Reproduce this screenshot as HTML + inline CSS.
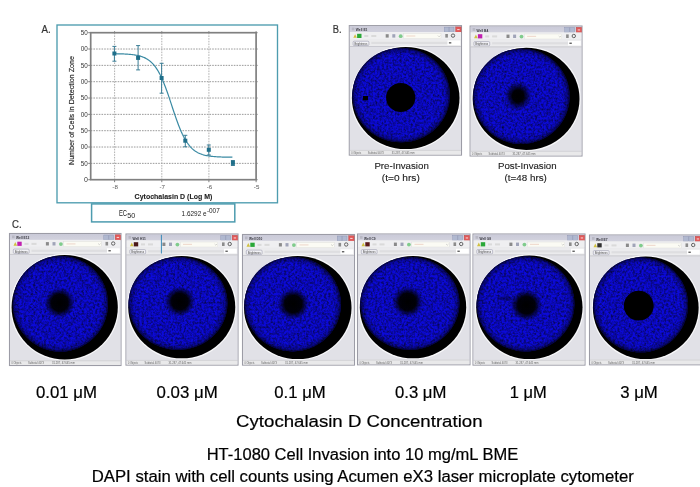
<!DOCTYPE html><html><head><meta charset="utf-8"><style>html,body{margin:0;padding:0;background:#fff;}svg{display:block;font-family:"Liberation Sans", sans-serif;will-change:transform;}</style></head><body>
<svg width="700" height="487" viewBox="0 0 700 487" font-family='"Liberation Sans", sans-serif'>
<defs>
<radialGradient id="spot"><stop offset="0" stop-color="#000" stop-opacity="1"/><stop offset="0.55" stop-color="#000" stop-opacity="0.95"/><stop offset="1" stop-color="#000" stop-opacity="0"/></radialGradient>
<filter id="spk" x="0" y="0" width="100%" height="100%" color-interpolation-filters="sRGB"><feTurbulence type="fractalNoise" baseFrequency="0.45" numOctaves="3" seed="3" result="n"/><feColorMatrix in="n" type="matrix" values="0 0 0 0 0.02  0 0 0 0 0.02  0 0 0 0 0.1  -1.4 0 0 0 0.9" result="m"/><feComposite in="m" in2="SourceGraphic" operator="in"/></filter>
<linearGradient id="tbar" x1="0" y1="0" x2="0" y2="1"><stop offset="0" stop-color="#cacad8"/><stop offset="1" stop-color="#d2d2de"/></linearGradient>
<radialGradient id="vig"><stop offset="0.86" stop-color="#000" stop-opacity="0"/><stop offset="0.96" stop-color="#000" stop-opacity="0.3"/><stop offset="1" stop-color="#000" stop-opacity="0.75"/></radialGradient>
<radialGradient id="spot2"><stop offset="0" stop-color="#000" stop-opacity="1"/><stop offset="0.42" stop-color="#000" stop-opacity="0.97"/><stop offset="1" stop-color="#000" stop-opacity="0"/></radialGradient>
</defs>
<rect width="700" height="487" fill="#fff"/>
<text x="41.6" y="32.7" font-size="10.2" textLength="9.2" lengthAdjust="spacingAndGlyphs" fill="#333" stroke="#333" stroke-width="0.2">A.</text>
<rect x="57" y="25" width="220.5" height="177.8" fill="#fff" stroke="#4d9caf" stroke-width="1.35"/>
<line x1="90.7" y1="49.03" x2="256.1" y2="49.03" stroke="#9a9a9a" stroke-width="1" stroke-dasharray="1.6,1.1"/>
<line x1="90.7" y1="65.37" x2="256.1" y2="65.37" stroke="#9a9a9a" stroke-width="1" stroke-dasharray="1.6,1.1"/>
<line x1="90.7" y1="81.70" x2="256.1" y2="81.70" stroke="#9a9a9a" stroke-width="1" stroke-dasharray="1.6,1.1"/>
<line x1="90.7" y1="98.03" x2="256.1" y2="98.03" stroke="#9a9a9a" stroke-width="1" stroke-dasharray="1.6,1.1"/>
<line x1="90.7" y1="114.37" x2="256.1" y2="114.37" stroke="#9a9a9a" stroke-width="1" stroke-dasharray="1.6,1.1"/>
<line x1="90.7" y1="130.70" x2="256.1" y2="130.70" stroke="#9a9a9a" stroke-width="1" stroke-dasharray="1.6,1.1"/>
<line x1="90.7" y1="147.03" x2="256.1" y2="147.03" stroke="#9a9a9a" stroke-width="1" stroke-dasharray="1.6,1.1"/>
<line x1="90.7" y1="163.37" x2="256.1" y2="163.37" stroke="#9a9a9a" stroke-width="1" stroke-dasharray="1.6,1.1"/>
<line x1="114.60" y1="32.7" x2="114.60" y2="179.7" stroke="#a8a8a8" stroke-width="0.9" stroke-dasharray="1.6,1.1"/>
<line x1="161.80" y1="32.7" x2="161.80" y2="179.7" stroke="#a8a8a8" stroke-width="0.9" stroke-dasharray="1.6,1.1"/>
<line x1="208.90" y1="32.7" x2="208.90" y2="179.7" stroke="#a8a8a8" stroke-width="0.9" stroke-dasharray="1.6,1.1"/>
<rect x="90.7" y="32.7" width="165.40" height="147.00" fill="none" stroke="#808080" stroke-width="1.7"/>
<line x1="88.2" y1="32.70" x2="90.7" y2="32.70" stroke="#808080" stroke-width="1"/>
<line x1="256.1" y1="32.70" x2="257.6" y2="32.70" stroke="#808080" stroke-width="1"/>
<line x1="88.2" y1="49.03" x2="90.7" y2="49.03" stroke="#808080" stroke-width="1"/>
<line x1="256.1" y1="49.03" x2="257.6" y2="49.03" stroke="#808080" stroke-width="1"/>
<line x1="88.2" y1="65.37" x2="90.7" y2="65.37" stroke="#808080" stroke-width="1"/>
<line x1="256.1" y1="65.37" x2="257.6" y2="65.37" stroke="#808080" stroke-width="1"/>
<line x1="88.2" y1="81.70" x2="90.7" y2="81.70" stroke="#808080" stroke-width="1"/>
<line x1="256.1" y1="81.70" x2="257.6" y2="81.70" stroke="#808080" stroke-width="1"/>
<line x1="88.2" y1="98.03" x2="90.7" y2="98.03" stroke="#808080" stroke-width="1"/>
<line x1="256.1" y1="98.03" x2="257.6" y2="98.03" stroke="#808080" stroke-width="1"/>
<line x1="88.2" y1="114.37" x2="90.7" y2="114.37" stroke="#808080" stroke-width="1"/>
<line x1="256.1" y1="114.37" x2="257.6" y2="114.37" stroke="#808080" stroke-width="1"/>
<line x1="88.2" y1="130.70" x2="90.7" y2="130.70" stroke="#808080" stroke-width="1"/>
<line x1="256.1" y1="130.70" x2="257.6" y2="130.70" stroke="#808080" stroke-width="1"/>
<line x1="88.2" y1="147.03" x2="90.7" y2="147.03" stroke="#808080" stroke-width="1"/>
<line x1="256.1" y1="147.03" x2="257.6" y2="147.03" stroke="#808080" stroke-width="1"/>
<line x1="88.2" y1="163.37" x2="90.7" y2="163.37" stroke="#808080" stroke-width="1"/>
<line x1="256.1" y1="163.37" x2="257.6" y2="163.37" stroke="#808080" stroke-width="1"/>
<line x1="88.2" y1="179.70" x2="90.7" y2="179.70" stroke="#808080" stroke-width="1"/>
<line x1="256.1" y1="179.70" x2="257.6" y2="179.70" stroke="#808080" stroke-width="1"/>
<line x1="114.60" y1="179.7" x2="114.60" y2="182.2" stroke="#808080" stroke-width="1"/>
<line x1="114.60" y1="31.200000000000003" x2="114.60" y2="32.7" stroke="#808080" stroke-width="1"/>
<line x1="161.80" y1="179.7" x2="161.80" y2="182.2" stroke="#808080" stroke-width="1"/>
<line x1="161.80" y1="31.200000000000003" x2="161.80" y2="32.7" stroke="#808080" stroke-width="1"/>
<line x1="208.90" y1="179.7" x2="208.90" y2="182.2" stroke="#808080" stroke-width="1"/>
<line x1="208.90" y1="31.200000000000003" x2="208.90" y2="32.7" stroke="#808080" stroke-width="1"/>
<line x1="256.10" y1="179.7" x2="256.10" y2="182.2" stroke="#808080" stroke-width="1"/>
<line x1="256.10" y1="31.200000000000003" x2="256.10" y2="32.7" stroke="#808080" stroke-width="1"/>
<text x="87.8" y="35.00" font-size="7" fill="#333" text-anchor="end" textLength="7" lengthAdjust="spacingAndGlyphs">50</text>
<text x="87.8" y="51.33" font-size="7" fill="#333" text-anchor="end" textLength="7" lengthAdjust="spacingAndGlyphs">00</text>
<text x="87.8" y="67.67" font-size="7" fill="#333" text-anchor="end" textLength="7" lengthAdjust="spacingAndGlyphs">50</text>
<text x="87.8" y="84.00" font-size="7" fill="#333" text-anchor="end" textLength="7" lengthAdjust="spacingAndGlyphs">00</text>
<text x="87.8" y="100.33" font-size="7" fill="#333" text-anchor="end" textLength="7" lengthAdjust="spacingAndGlyphs">50</text>
<text x="87.8" y="116.67" font-size="7" fill="#333" text-anchor="end" textLength="7" lengthAdjust="spacingAndGlyphs">00</text>
<text x="87.8" y="133.00" font-size="7" fill="#333" text-anchor="end" textLength="7" lengthAdjust="spacingAndGlyphs">50</text>
<text x="87.8" y="149.33" font-size="7" fill="#333" text-anchor="end" textLength="7" lengthAdjust="spacingAndGlyphs">00</text>
<text x="87.8" y="165.67" font-size="7" fill="#333" text-anchor="end" textLength="7" lengthAdjust="spacingAndGlyphs">50</text>
<text x="87.8" y="182.00" font-size="7" fill="#333" text-anchor="end">0</text>
<text x="115.10" y="188.8" font-size="6.2" fill="#555" text-anchor="middle">-8</text>
<text x="162.30" y="188.8" font-size="6.2" fill="#555" text-anchor="middle">-7</text>
<text x="209.40" y="188.8" font-size="6.2" fill="#555" text-anchor="middle">-6</text>
<text x="256.60" y="188.8" font-size="6.2" fill="#555" text-anchor="middle">-5</text>
<text x="134.6" y="198.9" font-size="7.8" font-weight="bold" fill="#222" textLength="77.8" lengthAdjust="spacingAndGlyphs" stroke="#222" stroke-width="0.1">Cytochalasin D (Log M)</text>
<text transform="translate(74,165) rotate(-90)" x="0" y="0" font-size="7.7" fill="#222" stroke="#222" stroke-width="0.15" textLength="109" lengthAdjust="spacingAndGlyphs">Number of Cells in Detection Zone</text>
<polyline points="114.4,53.72 115.4,53.74 116.4,53.76 117.4,53.78 118.4,53.80 119.4,53.82 120.4,53.85 121.4,53.88 122.4,53.92 123.4,53.96 124.4,54.00 125.4,54.05 126.4,54.11 127.4,54.17 128.4,54.24 129.4,54.32 130.4,54.41 131.4,54.51 132.4,54.62 133.4,54.75 134.4,54.89 135.4,55.04 136.4,55.22 137.4,55.42 138.4,55.64 139.4,55.89 140.4,56.17 141.4,56.48 142.4,56.82 143.4,57.21 144.4,57.64 145.4,58.12 146.4,58.66 147.4,59.25 148.4,59.91 149.4,60.64 150.4,61.45 151.4,62.35 152.4,63.33 153.4,64.42 154.4,65.61 155.4,66.91 156.4,68.33 157.4,69.87 158.4,71.54 159.4,73.35 160.4,75.29 161.4,77.37 162.4,79.59 163.4,81.94 164.4,84.41 165.4,87.01 166.4,89.72 167.4,92.52 168.4,95.41 169.4,98.37 170.4,101.37 171.4,104.40 172.4,107.44 173.4,110.46 174.4,113.45 175.4,116.39 176.4,119.25 177.4,122.03 178.4,124.70 179.4,127.26 180.4,129.70 181.4,132.01 182.4,134.18 183.4,136.22 184.4,138.12 185.4,139.89 186.4,141.52 187.4,143.02 188.4,144.41 189.4,145.67 190.4,146.83 191.4,147.88 192.4,148.84 193.4,149.71 194.4,150.49 195.4,151.20 196.4,151.84 197.4,152.41 198.4,152.93 199.4,153.40 200.4,153.81 201.4,154.19 202.4,154.52 203.4,154.82 204.4,155.09 205.4,155.33 206.4,155.54 207.4,155.74 208.4,155.91 209.4,156.06 210.4,156.19 211.4,156.32 212.4,156.42 213.4,156.52 214.4,156.61 215.4,156.68 216.4,156.75 217.4,156.81 218.4,156.86 219.4,156.91 220.4,156.96 221.4,156.99 222.4,157.03 223.4,157.06 224.4,157.08 225.4,157.11 226.4,157.13 227.4,157.15 228.4,157.16 229.4,157.18 230.4,157.19 231.4,157.20 232.4,157.22" fill="none" stroke="#3a8aa3" stroke-width="1.2" stroke-linejoin="round"/>
<line x1="114.4" y1="46.4" x2="114.4" y2="61.2" stroke="#3a7d95" stroke-width="1"/>
<line x1="112.4" y1="46.4" x2="116.4" y2="46.4" stroke="#3a7d95" stroke-width="1"/>
<line x1="112.4" y1="61.2" x2="116.4" y2="61.2" stroke="#3a7d95" stroke-width="1"/>
<rect x="112.4" y="51.5" width="4" height="4" fill="#1f6f8a"/>
<line x1="138.1" y1="45.6" x2="138.1" y2="69.9" stroke="#3a7d95" stroke-width="1"/>
<line x1="136.1" y1="45.6" x2="140.1" y2="45.6" stroke="#3a7d95" stroke-width="1"/>
<line x1="136.1" y1="69.9" x2="140.1" y2="69.9" stroke="#3a7d95" stroke-width="1"/>
<rect x="136.1" y="55.9" width="4" height="4" fill="#1f6f8a"/>
<line x1="161.6" y1="63.3" x2="161.6" y2="93.2" stroke="#3a7d95" stroke-width="1"/>
<line x1="159.6" y1="63.3" x2="163.6" y2="63.3" stroke="#3a7d95" stroke-width="1"/>
<line x1="159.6" y1="93.2" x2="163.6" y2="93.2" stroke="#3a7d95" stroke-width="1"/>
<rect x="159.6" y="76" width="4" height="4" fill="#1f6f8a"/>
<line x1="185.3" y1="135.3" x2="185.3" y2="146.8" stroke="#3a7d95" stroke-width="1"/>
<line x1="183.3" y1="135.3" x2="187.3" y2="135.3" stroke="#3a7d95" stroke-width="1"/>
<line x1="183.3" y1="146.8" x2="187.3" y2="146.8" stroke="#3a7d95" stroke-width="1"/>
<rect x="183.3" y="138.7" width="4" height="4" fill="#1f6f8a"/>
<line x1="208.8" y1="145" x2="208.8" y2="155" stroke="#3a7d95" stroke-width="1"/>
<line x1="206.8" y1="145" x2="210.8" y2="145" stroke="#3a7d95" stroke-width="1"/>
<line x1="206.8" y1="155" x2="210.8" y2="155" stroke="#3a7d95" stroke-width="1"/>
<rect x="206.8" y="147.8" width="4" height="4" fill="#1f6f8a"/>
<line x1="232.9" y1="160.5" x2="232.9" y2="165.5" stroke="#3a7d95" stroke-width="1"/>
<line x1="230.9" y1="160.5" x2="234.9" y2="160.5" stroke="#3a7d95" stroke-width="1"/>
<line x1="230.9" y1="165.5" x2="234.9" y2="165.5" stroke="#3a7d95" stroke-width="1"/>
<rect x="230.9" y="160.9" width="4" height="4" fill="#1f6f8a"/>
<rect x="91.6" y="203.9" width="143.2" height="18" fill="#fff" stroke="#4d9caf" stroke-width="1.5"/>
<text x="118.9" y="215.6" font-size="8.2" fill="#222" textLength="8.2" lengthAdjust="spacingAndGlyphs">EC</text>
<text x="127.3" y="217.6" font-size="7.6" fill="#222" textLength="8" lengthAdjust="spacingAndGlyphs">50</text>
<text x="181.6" y="215.8" font-size="7.4" fill="#222" textLength="25" lengthAdjust="spacingAndGlyphs">1.6292 e</text>
<text x="206.9" y="213.2" font-size="6.4" fill="#222" textLength="12.8" lengthAdjust="spacingAndGlyphs">-007</text>
<text x="332.8" y="32.7" font-size="10.3" textLength="8.8" lengthAdjust="spacingAndGlyphs" fill="#333" stroke="#333" stroke-width="0.2">B.</text>
<g>
<rect x="349.3" y="25.6" width="112.20" height="129.50" fill="#e3e3e8" stroke="#9c9ca6" stroke-width="1.1"/>
<rect x="349.8" y="26.1" width="111.20" height="5.9" fill="url(#tbar)"/>
<rect x="351.8" y="27.6" width="2.6" height="2.8" fill="#b8b8c4"/>
<text x="355.8" y="31.3" font-size="4.4" font-weight="bold" fill="#383840" textLength="11.6" lengthAdjust="spacingAndGlyphs">Well E1</text>
<rect x="444.30" y="27.1" width="4.6" height="5" fill="#b0b8d0" stroke="#8890b0" stroke-width="0.4"/>
<rect x="449.40" y="27.1" width="4.6" height="5" fill="#b0b8d0" stroke="#8890b0" stroke-width="0.4"/>
<rect x="455.70" y="26.900000000000002" width="5.4" height="5.3" fill="#e25858" stroke="#b84848" stroke-width="0.4"/>
<rect x="457.20" y="29.0" width="2.4" height="1.1" fill="#f6d0d0"/>
<rect x="349.8" y="32.0" width="111.20" height="7" fill="#efeff1"/>
<path d="M353.30,37.8 L355.10,34.2 L356.90,37.8 Z" fill="#d0c040"/>
<rect x="357.1" y="33.8" width="4.4" height="4.2" fill="#2aa838"/>
<rect x="364.3" y="35.0" width="4" height="2" fill="#dadada"/>
<rect x="371.3" y="35.0" width="5" height="2" fill="#dadada"/>
<rect x="385.7" y="34.2" width="3" height="3.4" fill="#8a8a8a"/>
<rect x="392.3" y="34.2" width="3" height="3.4" fill="#a0a4b8"/>
<circle cx="400.7" cy="36.2" r="1.9" fill="#80cc8c"/>
<rect x="403.5" y="33.6" width="37.5" height="5" fill="#fbfbf4" stroke="#dcdcd8" stroke-width="0.4"/>
<path d="M437.90,35.6 l1.2,1.2 l1.2,-1.2" fill="none" stroke="#aaa" stroke-width="0.5"/>
<rect x="406.3" y="35.400000000000006" width="9" height="1.2" fill="#f0dcd0"/>
<rect x="445.3" y="34.0" width="2.6" height="3.6" fill="#8c8c8c"/>
<circle cx="453.0" cy="35.6" r="1.7" fill="none" stroke="#555" stroke-width="0.9"/>
<rect x="349.8" y="39.0" width="111.20" height="7.3" fill="#ebebed"/>
<rect x="353.1" y="41.2" width="15.8" height="4.3" rx="1" fill="#f2f2f6" stroke="#8a8aa0" stroke-width="0.5"/>
<text x="354.5" y="44.6" font-size="3.4" fill="#444" textLength="12.8" lengthAdjust="spacingAndGlyphs">Brightness</text>
<rect x="371.3" y="41.8" width="76.20" height="2.2" fill="#dedee0"/>
<rect x="447.50" y="40.400000000000006" width="12.8" height="4.7" fill="#ffffff"/>
<rect x="448.90" y="42.2" width="2.4" height="1.3" fill="#555"/>
<rect x="349.8" y="46.3" width="111.20" height="104.10" fill="#e1e1e7"/>
<line x1="349.8" y1="46.5" x2="461.00" y2="46.5" stroke="#b8b8c0" stroke-width="0.6"/>
<ellipse cx="405.7" cy="98" rx="54.40" ry="51.70" fill="none" stroke="#f8f8fa" stroke-width="1.2"/>
<ellipse cx="405.7" cy="98" rx="53.8" ry="51.1" fill="#000"/>
<ellipse cx="401.15" cy="95.1" rx="48.75" ry="47.2" fill="#0c0ad8"/>
<ellipse cx="401.15" cy="95.1" rx="48.75" ry="47.2" fill="#000" filter="url(#spk)"/>
<ellipse cx="401.15" cy="95.1" rx="48.75" ry="47.2" fill="url(#vig)"/>
<ellipse cx="400.7" cy="97.4" rx="14.6" ry="14.5" fill="#000"/>
<rect x="363" y="96" width="5" height="4.3" fill="#000"/>
<rect x="349.8" y="150.40" width="111.20" height="4.2" fill="#e9e9ea"/>
<line x1="349.8" y1="150.40" x2="461.00" y2="150.40" stroke="#c0c0c4" stroke-width="0.5"/>
<text x="351.3" y="153.80" font-size="3" fill="#666" textLength="10" lengthAdjust="spacingAndGlyphs">0 Objects</text>
<text x="367.8" y="153.80" font-size="3" fill="#666" textLength="16" lengthAdjust="spacingAndGlyphs">Subtotal 4073</text>
<text x="391.8" y="153.80" font-size="3" fill="#666" textLength="23" lengthAdjust="spacingAndGlyphs">31.287, 47.645 mm</text>
</g>
<g>
<rect x="470.1" y="26" width="111.90" height="130.00" fill="#e3e3e8" stroke="#9c9ca6" stroke-width="1.1"/>
<rect x="470.6" y="26.5" width="110.90" height="5.9" fill="url(#tbar)"/>
<rect x="472.6" y="28" width="2.6" height="2.8" fill="#b8b8c4"/>
<text x="476.6" y="31.7" font-size="4.4" font-weight="bold" fill="#383840" textLength="11.6" lengthAdjust="spacingAndGlyphs">Well B4</text>
<rect x="564.80" y="27.5" width="4.6" height="5" fill="#b0b8d0" stroke="#8890b0" stroke-width="0.4"/>
<rect x="569.90" y="27.5" width="4.6" height="5" fill="#b0b8d0" stroke="#8890b0" stroke-width="0.4"/>
<rect x="576.20" y="27.3" width="5.4" height="5.3" fill="#e25858" stroke="#b84848" stroke-width="0.4"/>
<rect x="577.70" y="29.4" width="2.4" height="1.1" fill="#f6d0d0"/>
<rect x="470.6" y="32.4" width="110.90" height="7" fill="#efeff1"/>
<path d="M474.10,38.2 L475.90,34.6 L477.70,38.2 Z" fill="#d0c040"/>
<rect x="477.90000000000003" y="34.2" width="4.4" height="4.2" fill="#c020b0"/>
<rect x="485.1" y="35.4" width="4" height="2" fill="#dadada"/>
<rect x="492.1" y="35.4" width="5" height="2" fill="#dadada"/>
<rect x="506.5" y="34.6" width="3" height="3.4" fill="#8a8a8a"/>
<rect x="513.1" y="34.6" width="3" height="3.4" fill="#a0a4b8"/>
<circle cx="521.5" cy="36.6" r="1.9" fill="#80cc8c"/>
<rect x="524.3000000000001" y="34" width="37.5" height="5" fill="#fbfbf4" stroke="#dcdcd8" stroke-width="0.4"/>
<path d="M558.70,36 l1.2,1.2 l1.2,-1.2" fill="none" stroke="#aaa" stroke-width="0.5"/>
<rect x="527.1" y="35.8" width="9" height="1.2" fill="#f0dcd0"/>
<rect x="566.1" y="34.4" width="2.6" height="3.6" fill="#8c8c8c"/>
<circle cx="573.8000000000001" cy="36" r="1.7" fill="none" stroke="#555" stroke-width="0.9"/>
<rect x="470.6" y="39.4" width="110.90" height="7.3" fill="#ebebed"/>
<rect x="473.90000000000003" y="41.6" width="15.8" height="4.3" rx="1" fill="#f2f2f6" stroke="#8a8aa0" stroke-width="0.5"/>
<text x="475.3" y="45" font-size="3.4" fill="#444" textLength="12.8" lengthAdjust="spacingAndGlyphs">Brightness</text>
<rect x="492.1" y="42.2" width="75.90" height="2.2" fill="#dedee0"/>
<rect x="568.00" y="40.8" width="12.8" height="4.7" fill="#ffffff"/>
<rect x="569.40" y="42.6" width="2.4" height="1.3" fill="#555"/>
<rect x="470.6" y="46.7" width="110.90" height="104.60" fill="#e1e1e7"/>
<line x1="470.6" y1="46.9" x2="581.50" y2="46.9" stroke="#b8b8c0" stroke-width="0.6"/>
<ellipse cx="526.1" cy="98.85" rx="54.00" ry="51.75" fill="none" stroke="#f8f8fa" stroke-width="1.2"/>
<ellipse cx="526.1" cy="98.85" rx="53.4" ry="51.15" fill="#000"/>
<ellipse cx="521.4" cy="96.35" rx="48.2" ry="47.65" fill="#0c0ad8"/>
<ellipse cx="521.4" cy="96.35" rx="48.2" ry="47.65" fill="#000" filter="url(#spk)"/>
<ellipse cx="521.4" cy="96.35" rx="48.2" ry="47.65" fill="url(#vig)"/>
<ellipse cx="518" cy="96" rx="13.5" ry="14.5" fill="url(#spot2)" opacity="1"/>
<rect x="470.6" y="151.30" width="110.90" height="4.2" fill="#e9e9ea"/>
<line x1="470.6" y1="151.30" x2="581.50" y2="151.30" stroke="#c0c0c4" stroke-width="0.5"/>
<text x="472.1" y="154.70" font-size="3" fill="#666" textLength="10" lengthAdjust="spacingAndGlyphs">0 Objects</text>
<text x="488.6" y="154.70" font-size="3" fill="#666" textLength="16" lengthAdjust="spacingAndGlyphs">Subtotal 4073</text>
<text x="512.6" y="154.70" font-size="3" fill="#666" textLength="23" lengthAdjust="spacingAndGlyphs">31.287, 47.645 mm</text>
</g>
<text x="401.6" y="169" font-size="9.6" fill="#222" stroke="#222" stroke-width="0.12" text-anchor="middle" textLength="54.4" lengthAdjust="spacingAndGlyphs">Pre-Invasion</text>
<text x="400.8" y="181" font-size="9.6" fill="#222" stroke="#222" stroke-width="0.12" text-anchor="middle" textLength="38" lengthAdjust="spacingAndGlyphs">(t=0 hrs)</text>
<text x="527.3" y="169" font-size="9.6" fill="#222" stroke="#222" stroke-width="0.12" text-anchor="middle" textLength="58.6" lengthAdjust="spacingAndGlyphs">Post-Invasion</text>
<text x="525.7" y="181" font-size="9.6" fill="#222" stroke="#222" stroke-width="0.12" text-anchor="middle" textLength="42.3" lengthAdjust="spacingAndGlyphs">(t=48 hrs)</text>
<text x="12" y="227.8" font-size="10.3" textLength="9.6" lengthAdjust="spacingAndGlyphs" fill="#333" stroke="#333" stroke-width="0.2">C.</text>
<g>
<rect x="9.5" y="233.5" width="111.50" height="132.00" fill="#e3e3e8" stroke="#9c9ca6" stroke-width="1.1"/>
<rect x="10.0" y="234.0" width="110.50" height="5.9" fill="url(#tbar)"/>
<rect x="12.0" y="235.5" width="2.6" height="2.8" fill="#b8b8c4"/>
<text x="16.0" y="239.2" font-size="4.4" font-weight="bold" fill="#383840" textLength="13.3" lengthAdjust="spacingAndGlyphs">Well E12</text>
<rect x="103.80" y="235.0" width="4.6" height="5" fill="#b0b8d0" stroke="#8890b0" stroke-width="0.4"/>
<rect x="108.90" y="235.0" width="4.6" height="5" fill="#b0b8d0" stroke="#8890b0" stroke-width="0.4"/>
<rect x="115.20" y="234.8" width="5.4" height="5.3" fill="#e25858" stroke="#b84848" stroke-width="0.4"/>
<rect x="116.70" y="236.9" width="2.4" height="1.1" fill="#f6d0d0"/>
<rect x="10.0" y="239.9" width="110.50" height="7" fill="#efeff1"/>
<path d="M13.50,245.7 L15.30,242.1 L17.10,245.7 Z" fill="#d0c040"/>
<rect x="17.3" y="241.7" width="4.4" height="4.2" fill="#c020b0"/>
<rect x="24.5" y="242.9" width="4" height="2" fill="#dadada"/>
<rect x="31.5" y="242.9" width="5" height="2" fill="#dadada"/>
<rect x="45.9" y="242.1" width="3" height="3.4" fill="#8a8a8a"/>
<rect x="52.5" y="242.1" width="3" height="3.4" fill="#a0a4b8"/>
<circle cx="60.9" cy="244.1" r="1.9" fill="#80cc8c"/>
<rect x="63.7" y="241.5" width="37.5" height="5" fill="#fbfbf4" stroke="#dcdcd8" stroke-width="0.4"/>
<path d="M98.10,243.5 l1.2,1.2 l1.2,-1.2" fill="none" stroke="#aaa" stroke-width="0.5"/>
<rect x="66.5" y="243.3" width="9" height="1.2" fill="#f0dcd0"/>
<rect x="105.5" y="241.9" width="2.6" height="3.6" fill="#8c8c8c"/>
<circle cx="113.2" cy="243.5" r="1.7" fill="none" stroke="#555" stroke-width="0.9"/>
<rect x="10.0" y="246.9" width="110.50" height="7.3" fill="#ebebed"/>
<rect x="13.3" y="249.1" width="15.8" height="4.3" rx="1" fill="#f2f2f6" stroke="#8a8aa0" stroke-width="0.5"/>
<text x="14.7" y="252.5" font-size="3.4" fill="#444" textLength="12.8" lengthAdjust="spacingAndGlyphs">Brightness</text>
<rect x="31.5" y="249.7" width="75.50" height="2.2" fill="#dedee0"/>
<rect x="107.00" y="248.3" width="12.8" height="4.7" fill="#ffffff"/>
<rect x="108.40" y="250.1" width="2.4" height="1.3" fill="#555"/>
<rect x="10.0" y="254.2" width="110.50" height="106.60" fill="#e1e1e7"/>
<line x1="10.0" y1="254.4" x2="120.50" y2="254.4" stroke="#b8b8c0" stroke-width="0.6"/>
<ellipse cx="64.7" cy="307.2" rx="53.70" ry="52.90" fill="none" stroke="#f8f8fa" stroke-width="1.2"/>
<ellipse cx="64.7" cy="307.2" rx="53.1" ry="52.3" fill="#000"/>
<ellipse cx="60.4" cy="303.8" rx="47.6" ry="47.75" fill="#0c0ad8"/>
<ellipse cx="60.4" cy="303.8" rx="47.6" ry="47.75" fill="#000" filter="url(#spk)"/>
<ellipse cx="60.4" cy="303.8" rx="47.6" ry="47.75" fill="url(#vig)"/>
<circle cx="59.6" cy="302.8" r="15.2" fill="url(#spot)" opacity="1.0"/>
<rect x="10.0" y="360.80" width="110.50" height="4.2" fill="#e9e9ea"/>
<line x1="10.0" y1="360.80" x2="120.50" y2="360.80" stroke="#c0c0c4" stroke-width="0.5"/>
<text x="11.5" y="364.20" font-size="3" fill="#666" textLength="10" lengthAdjust="spacingAndGlyphs">0 Objects</text>
<text x="28.0" y="364.20" font-size="3" fill="#666" textLength="16" lengthAdjust="spacingAndGlyphs">Subtotal 4073</text>
<text x="52.0" y="364.20" font-size="3" fill="#666" textLength="23" lengthAdjust="spacingAndGlyphs">31.287, 47.645 mm</text>
</g>
<g>
<rect x="126" y="234" width="112.00" height="131.10" fill="#e3e3e8" stroke="#9c9ca6" stroke-width="1.1"/>
<rect x="126.5" y="234.5" width="111.00" height="5.9" fill="url(#tbar)"/>
<rect x="128.5" y="236" width="2.6" height="2.8" fill="#b8b8c4"/>
<text x="132.5" y="239.7" font-size="4.4" font-weight="bold" fill="#383840" textLength="13.3" lengthAdjust="spacingAndGlyphs">Well H11</text>
<rect x="220.80" y="235.5" width="4.6" height="5" fill="#b0b8d0" stroke="#8890b0" stroke-width="0.4"/>
<rect x="225.90" y="235.5" width="4.6" height="5" fill="#b0b8d0" stroke="#8890b0" stroke-width="0.4"/>
<rect x="232.20" y="235.3" width="5.4" height="5.3" fill="#e25858" stroke="#b84848" stroke-width="0.4"/>
<rect x="233.70" y="237.4" width="2.4" height="1.1" fill="#f6d0d0"/>
<rect x="126.5" y="240.4" width="111.00" height="7" fill="#efeff1"/>
<path d="M130.00,246.2 L131.80,242.6 L133.60,246.2 Z" fill="#d0c040"/>
<rect x="133.8" y="242.2" width="4.4" height="4.2" fill="#4a1818"/>
<rect x="141" y="243.4" width="4" height="2" fill="#dadada"/>
<rect x="148" y="243.4" width="5" height="2" fill="#dadada"/>
<rect x="162.4" y="242.6" width="3" height="3.4" fill="#8a8a8a"/>
<rect x="169" y="242.6" width="3" height="3.4" fill="#a0a4b8"/>
<circle cx="177.4" cy="244.6" r="1.9" fill="#80cc8c"/>
<rect x="180.2" y="242" width="37.5" height="5" fill="#fbfbf4" stroke="#dcdcd8" stroke-width="0.4"/>
<path d="M214.60,244 l1.2,1.2 l1.2,-1.2" fill="none" stroke="#aaa" stroke-width="0.5"/>
<rect x="183" y="243.8" width="9" height="1.2" fill="#f0dcd0"/>
<rect x="222" y="242.4" width="2.6" height="3.6" fill="#8c8c8c"/>
<circle cx="229.7" cy="244" r="1.7" fill="none" stroke="#555" stroke-width="0.9"/>
<rect x="126.5" y="247.4" width="111.00" height="7.3" fill="#ebebed"/>
<rect x="129.8" y="249.6" width="15.8" height="4.3" rx="1" fill="#f2f2f6" stroke="#8a8aa0" stroke-width="0.5"/>
<text x="131.2" y="253" font-size="3.4" fill="#444" textLength="12.8" lengthAdjust="spacingAndGlyphs">Brightness</text>
<rect x="148" y="250.2" width="76.00" height="2.2" fill="#dedee0"/>
<rect x="224.00" y="248.8" width="12.8" height="4.7" fill="#ffffff"/>
<rect x="225.40" y="250.6" width="2.4" height="1.3" fill="#555"/>
<rect x="126.5" y="254.7" width="111.00" height="105.70" fill="#e1e1e7"/>
<line x1="126.5" y1="254.9" x2="237.50" y2="254.9" stroke="#b8b8c0" stroke-width="0.6"/>
<ellipse cx="181.75" cy="307.15" rx="54.10" ry="51.80" fill="none" stroke="#f8f8fa" stroke-width="1.2"/>
<ellipse cx="181.75" cy="307.15" rx="53.5" ry="51.2" fill="#000"/>
<ellipse cx="178" cy="303.4" rx="49.4" ry="46.5" fill="#0c0ad8"/>
<ellipse cx="178" cy="303.4" rx="49.4" ry="46.5" fill="#000" filter="url(#spk)"/>
<ellipse cx="178" cy="303.4" rx="49.4" ry="46.5" fill="url(#vig)"/>
<circle cx="179.8" cy="301.5" r="15" fill="url(#spot)" opacity="1.0"/>
<rect x="126.5" y="360.40" width="111.00" height="4.2" fill="#e9e9ea"/>
<line x1="126.5" y1="360.40" x2="237.50" y2="360.40" stroke="#c0c0c4" stroke-width="0.5"/>
<text x="128" y="363.80" font-size="3" fill="#666" textLength="10" lengthAdjust="spacingAndGlyphs">0 Objects</text>
<text x="144.5" y="363.80" font-size="3" fill="#666" textLength="16" lengthAdjust="spacingAndGlyphs">Subtotal 4073</text>
<text x="168.5" y="363.80" font-size="3" fill="#666" textLength="23" lengthAdjust="spacingAndGlyphs">31.287, 47.645 mm</text>
</g>
<g>
<rect x="242.5" y="234.5" width="112.00" height="130.60" fill="#e3e3e8" stroke="#9c9ca6" stroke-width="1.1"/>
<rect x="243.0" y="235.0" width="111.00" height="5.9" fill="url(#tbar)"/>
<rect x="245.0" y="236.5" width="2.6" height="2.8" fill="#b8b8c4"/>
<text x="249.0" y="240.2" font-size="4.4" font-weight="bold" fill="#383840" textLength="13.3" lengthAdjust="spacingAndGlyphs">Well D10</text>
<rect x="337.30" y="236.0" width="4.6" height="5" fill="#b0b8d0" stroke="#8890b0" stroke-width="0.4"/>
<rect x="342.40" y="236.0" width="4.6" height="5" fill="#b0b8d0" stroke="#8890b0" stroke-width="0.4"/>
<rect x="348.70" y="235.8" width="5.4" height="5.3" fill="#e25858" stroke="#b84848" stroke-width="0.4"/>
<rect x="350.20" y="237.9" width="2.4" height="1.1" fill="#f6d0d0"/>
<rect x="243.0" y="240.9" width="111.00" height="7" fill="#efeff1"/>
<path d="M246.50,246.7 L248.30,243.1 L250.10,246.7 Z" fill="#d0c040"/>
<rect x="250.3" y="242.7" width="4.4" height="4.2" fill="#2aa838"/>
<rect x="257.5" y="243.9" width="4" height="2" fill="#dadada"/>
<rect x="264.5" y="243.9" width="5" height="2" fill="#dadada"/>
<rect x="278.9" y="243.1" width="3" height="3.4" fill="#8a8a8a"/>
<rect x="285.5" y="243.1" width="3" height="3.4" fill="#a0a4b8"/>
<circle cx="293.9" cy="245.1" r="1.9" fill="#80cc8c"/>
<rect x="296.7" y="242.5" width="37.5" height="5" fill="#fbfbf4" stroke="#dcdcd8" stroke-width="0.4"/>
<path d="M331.10,244.5 l1.2,1.2 l1.2,-1.2" fill="none" stroke="#aaa" stroke-width="0.5"/>
<rect x="299.5" y="244.3" width="9" height="1.2" fill="#f0dcd0"/>
<rect x="338.5" y="242.9" width="2.6" height="3.6" fill="#8c8c8c"/>
<circle cx="346.2" cy="244.5" r="1.7" fill="none" stroke="#555" stroke-width="0.9"/>
<rect x="243.0" y="247.9" width="111.00" height="7.3" fill="#ebebed"/>
<rect x="246.3" y="250.1" width="15.8" height="4.3" rx="1" fill="#f2f2f6" stroke="#8a8aa0" stroke-width="0.5"/>
<text x="247.7" y="253.5" font-size="3.4" fill="#444" textLength="12.8" lengthAdjust="spacingAndGlyphs">Brightness</text>
<rect x="264.5" y="250.7" width="76.00" height="2.2" fill="#dedee0"/>
<rect x="340.50" y="249.3" width="12.8" height="4.7" fill="#ffffff"/>
<rect x="341.90" y="251.1" width="2.4" height="1.3" fill="#555"/>
<rect x="243.0" y="255.2" width="111.00" height="105.20" fill="#e1e1e7"/>
<line x1="243.0" y1="255.4" x2="354.00" y2="255.4" stroke="#b8b8c0" stroke-width="0.6"/>
<ellipse cx="297.75" cy="307.55" rx="54.35" ry="52.15" fill="none" stroke="#f8f8fa" stroke-width="1.2"/>
<ellipse cx="297.75" cy="307.55" rx="53.75" ry="51.55" fill="#000"/>
<ellipse cx="292.7" cy="304.2" rx="48.2" ry="47.2" fill="#0c0ad8"/>
<ellipse cx="292.7" cy="304.2" rx="48.2" ry="47.2" fill="#000" filter="url(#spk)"/>
<ellipse cx="292.7" cy="304.2" rx="48.2" ry="47.2" fill="url(#vig)"/>
<circle cx="293.3" cy="304" r="15.6" fill="url(#spot)" opacity="1.0"/>
<rect x="243.0" y="360.40" width="111.00" height="4.2" fill="#e9e9ea"/>
<line x1="243.0" y1="360.40" x2="354.00" y2="360.40" stroke="#c0c0c4" stroke-width="0.5"/>
<text x="244.5" y="363.80" font-size="3" fill="#666" textLength="10" lengthAdjust="spacingAndGlyphs">0 Objects</text>
<text x="261.0" y="363.80" font-size="3" fill="#666" textLength="16" lengthAdjust="spacingAndGlyphs">Subtotal 4073</text>
<text x="285.0" y="363.80" font-size="3" fill="#666" textLength="23" lengthAdjust="spacingAndGlyphs">31.287, 47.645 mm</text>
</g>
<g>
<rect x="357.5" y="234" width="112.50" height="130.80" fill="#e3e3e8" stroke="#9c9ca6" stroke-width="1.1"/>
<rect x="358.0" y="234.5" width="111.50" height="5.9" fill="url(#tbar)"/>
<rect x="360.0" y="236" width="2.6" height="2.8" fill="#b8b8c4"/>
<text x="364.0" y="239.7" font-size="4.4" font-weight="bold" fill="#383840" textLength="11.6" lengthAdjust="spacingAndGlyphs">Well C9</text>
<rect x="452.80" y="235.5" width="4.6" height="5" fill="#b0b8d0" stroke="#8890b0" stroke-width="0.4"/>
<rect x="457.90" y="235.5" width="4.6" height="5" fill="#b0b8d0" stroke="#8890b0" stroke-width="0.4"/>
<rect x="464.20" y="235.3" width="5.4" height="5.3" fill="#e25858" stroke="#b84848" stroke-width="0.4"/>
<rect x="465.70" y="237.4" width="2.4" height="1.1" fill="#f6d0d0"/>
<rect x="358.0" y="240.4" width="111.50" height="7" fill="#efeff1"/>
<path d="M361.50,246.2 L363.30,242.6 L365.10,246.2 Z" fill="#d0c040"/>
<rect x="365.3" y="242.2" width="4.4" height="4.2" fill="#5a1a1a"/>
<rect x="372.5" y="243.4" width="4" height="2" fill="#dadada"/>
<rect x="379.5" y="243.4" width="5" height="2" fill="#dadada"/>
<rect x="393.9" y="242.6" width="3" height="3.4" fill="#8a8a8a"/>
<rect x="400.5" y="242.6" width="3" height="3.4" fill="#a0a4b8"/>
<circle cx="408.9" cy="244.6" r="1.9" fill="#80cc8c"/>
<rect x="411.7" y="242" width="37.5" height="5" fill="#fbfbf4" stroke="#dcdcd8" stroke-width="0.4"/>
<path d="M446.10,244 l1.2,1.2 l1.2,-1.2" fill="none" stroke="#aaa" stroke-width="0.5"/>
<rect x="414.5" y="243.8" width="9" height="1.2" fill="#f0dcd0"/>
<rect x="453.5" y="242.4" width="2.6" height="3.6" fill="#8c8c8c"/>
<circle cx="461.2" cy="244" r="1.7" fill="none" stroke="#555" stroke-width="0.9"/>
<rect x="358.0" y="247.4" width="111.50" height="7.3" fill="#ebebed"/>
<rect x="361.3" y="249.6" width="15.8" height="4.3" rx="1" fill="#f2f2f6" stroke="#8a8aa0" stroke-width="0.5"/>
<text x="362.7" y="253" font-size="3.4" fill="#444" textLength="12.8" lengthAdjust="spacingAndGlyphs">Brightness</text>
<rect x="379.5" y="250.2" width="76.50" height="2.2" fill="#dedee0"/>
<rect x="456.00" y="248.8" width="12.8" height="4.7" fill="#ffffff"/>
<rect x="457.40" y="250.6" width="2.4" height="1.3" fill="#555"/>
<rect x="358.0" y="254.7" width="111.50" height="105.40" fill="#e1e1e7"/>
<line x1="358.0" y1="254.9" x2="469.50" y2="254.9" stroke="#b8b8c0" stroke-width="0.6"/>
<ellipse cx="413" cy="307.15" rx="53.80" ry="51.75" fill="none" stroke="#f8f8fa" stroke-width="1.2"/>
<ellipse cx="413" cy="307.15" rx="53.2" ry="51.15" fill="#000"/>
<ellipse cx="409.9" cy="303.35" rx="49.5" ry="46.35" fill="#0c0ad8"/>
<ellipse cx="409.9" cy="303.35" rx="49.5" ry="46.35" fill="#000" filter="url(#spk)"/>
<ellipse cx="409.9" cy="303.35" rx="49.5" ry="46.35" fill="url(#vig)"/>
<circle cx="407.7" cy="301.8" r="15.4" fill="url(#spot)" opacity="1.0"/>
<rect x="358.0" y="360.10" width="111.50" height="4.2" fill="#e9e9ea"/>
<line x1="358.0" y1="360.10" x2="469.50" y2="360.10" stroke="#c0c0c4" stroke-width="0.5"/>
<text x="359.5" y="363.50" font-size="3" fill="#666" textLength="10" lengthAdjust="spacingAndGlyphs">0 Objects</text>
<text x="376.0" y="363.50" font-size="3" fill="#666" textLength="16" lengthAdjust="spacingAndGlyphs">Subtotal 4073</text>
<text x="400.0" y="363.50" font-size="3" fill="#666" textLength="23" lengthAdjust="spacingAndGlyphs">31.287, 47.645 mm</text>
</g>
<g>
<rect x="473" y="234" width="112.00" height="131.10" fill="#e3e3e8" stroke="#9c9ca6" stroke-width="1.1"/>
<rect x="473.5" y="234.5" width="111.00" height="5.9" fill="url(#tbar)"/>
<rect x="475.5" y="236" width="2.6" height="2.8" fill="#b8b8c4"/>
<text x="479.5" y="239.7" font-size="4.4" font-weight="bold" fill="#383840" textLength="11.6" lengthAdjust="spacingAndGlyphs">Well G8</text>
<rect x="567.80" y="235.5" width="4.6" height="5" fill="#b0b8d0" stroke="#8890b0" stroke-width="0.4"/>
<rect x="572.90" y="235.5" width="4.6" height="5" fill="#b0b8d0" stroke="#8890b0" stroke-width="0.4"/>
<rect x="579.20" y="235.3" width="5.4" height="5.3" fill="#e25858" stroke="#b84848" stroke-width="0.4"/>
<rect x="580.70" y="237.4" width="2.4" height="1.1" fill="#f6d0d0"/>
<rect x="473.5" y="240.4" width="111.00" height="7" fill="#efeff1"/>
<path d="M477.00,246.2 L478.80,242.6 L480.60,246.2 Z" fill="#d0c040"/>
<rect x="480.8" y="242.2" width="4.4" height="4.2" fill="#2aa838"/>
<rect x="488" y="243.4" width="4" height="2" fill="#dadada"/>
<rect x="495" y="243.4" width="5" height="2" fill="#dadada"/>
<rect x="509.4" y="242.6" width="3" height="3.4" fill="#8a8a8a"/>
<rect x="516" y="242.6" width="3" height="3.4" fill="#a0a4b8"/>
<circle cx="524.4" cy="244.6" r="1.9" fill="#80cc8c"/>
<rect x="527.2" y="242" width="37.5" height="5" fill="#fbfbf4" stroke="#dcdcd8" stroke-width="0.4"/>
<path d="M561.60,244 l1.2,1.2 l1.2,-1.2" fill="none" stroke="#aaa" stroke-width="0.5"/>
<rect x="530" y="243.8" width="9" height="1.2" fill="#f0dcd0"/>
<rect x="569" y="242.4" width="2.6" height="3.6" fill="#8c8c8c"/>
<circle cx="576.7" cy="244" r="1.7" fill="none" stroke="#555" stroke-width="0.9"/>
<rect x="473.5" y="247.4" width="111.00" height="7.3" fill="#ebebed"/>
<rect x="476.8" y="249.6" width="15.8" height="4.3" rx="1" fill="#f2f2f6" stroke="#8a8aa0" stroke-width="0.5"/>
<text x="478.2" y="253" font-size="3.4" fill="#444" textLength="12.8" lengthAdjust="spacingAndGlyphs">Brightness</text>
<rect x="495" y="250.2" width="76.00" height="2.2" fill="#dedee0"/>
<rect x="571.00" y="248.8" width="12.8" height="4.7" fill="#ffffff"/>
<rect x="572.40" y="250.6" width="2.4" height="1.3" fill="#555"/>
<rect x="473.5" y="254.7" width="111.00" height="105.70" fill="#e1e1e7"/>
<line x1="473.5" y1="254.9" x2="584.50" y2="254.9" stroke="#b8b8c0" stroke-width="0.6"/>
<ellipse cx="529.35" cy="307.3" rx="53.75" ry="52.40" fill="none" stroke="#f8f8fa" stroke-width="1.2"/>
<ellipse cx="529.35" cy="307.3" rx="53.15" ry="51.8" fill="#000"/>
<ellipse cx="525.55" cy="303.95" rx="48.85" ry="47.45" fill="#0c0ad8"/>
<ellipse cx="525.55" cy="303.95" rx="48.85" ry="47.45" fill="#000" filter="url(#spk)"/>
<ellipse cx="525.55" cy="303.95" rx="48.85" ry="47.45" fill="url(#vig)"/>
<circle cx="526.4" cy="305.2" r="15.8" fill="url(#spot)" opacity="1.0"/>
<ellipse cx="506" cy="298.5" rx="9" ry="3" fill="url(#spot)" opacity="0.35"/>
<rect x="473.5" y="360.40" width="111.00" height="4.2" fill="#e9e9ea"/>
<line x1="473.5" y1="360.40" x2="584.50" y2="360.40" stroke="#c0c0c4" stroke-width="0.5"/>
<text x="475" y="363.80" font-size="3" fill="#666" textLength="10" lengthAdjust="spacingAndGlyphs">0 Objects</text>
<text x="491.5" y="363.80" font-size="3" fill="#666" textLength="16" lengthAdjust="spacingAndGlyphs">Subtotal 4073</text>
<text x="515.5" y="363.80" font-size="3" fill="#666" textLength="23" lengthAdjust="spacingAndGlyphs">31.287, 47.645 mm</text>
</g>
<g>
<rect x="589.5" y="235" width="111.50" height="129.80" fill="#e3e3e8" stroke="#9c9ca6" stroke-width="1.1"/>
<rect x="590.0" y="235.5" width="110.50" height="5.9" fill="url(#tbar)"/>
<rect x="592.0" y="237" width="2.6" height="2.8" fill="#b8b8c4"/>
<text x="596.0" y="240.7" font-size="4.4" font-weight="bold" fill="#383840" textLength="11.6" lengthAdjust="spacingAndGlyphs">Well E7</text>
<rect x="683.80" y="236.5" width="4.6" height="5" fill="#b0b8d0" stroke="#8890b0" stroke-width="0.4"/>
<rect x="688.90" y="236.5" width="4.6" height="5" fill="#b0b8d0" stroke="#8890b0" stroke-width="0.4"/>
<rect x="695.20" y="236.3" width="5.4" height="5.3" fill="#e25858" stroke="#b84848" stroke-width="0.4"/>
<rect x="696.70" y="238.4" width="2.4" height="1.1" fill="#f6d0d0"/>
<rect x="590.0" y="241.4" width="110.50" height="7" fill="#efeff1"/>
<path d="M593.50,247.2 L595.30,243.6 L597.10,247.2 Z" fill="#d0c040"/>
<rect x="597.3" y="243.2" width="4.4" height="4.2" fill="#303030"/>
<rect x="604.5" y="244.4" width="4" height="2" fill="#dadada"/>
<rect x="611.5" y="244.4" width="5" height="2" fill="#dadada"/>
<rect x="625.9" y="243.6" width="3" height="3.4" fill="#8a8a8a"/>
<rect x="632.5" y="243.6" width="3" height="3.4" fill="#a0a4b8"/>
<circle cx="640.9" cy="245.6" r="1.9" fill="#80cc8c"/>
<rect x="643.7" y="243" width="37.5" height="5" fill="#fbfbf4" stroke="#dcdcd8" stroke-width="0.4"/>
<path d="M678.10,245 l1.2,1.2 l1.2,-1.2" fill="none" stroke="#aaa" stroke-width="0.5"/>
<rect x="646.5" y="244.8" width="9" height="1.2" fill="#f0dcd0"/>
<rect x="685.5" y="243.4" width="2.6" height="3.6" fill="#8c8c8c"/>
<circle cx="693.2" cy="245" r="1.7" fill="none" stroke="#555" stroke-width="0.9"/>
<rect x="590.0" y="248.4" width="110.50" height="7.3" fill="#ebebed"/>
<rect x="593.3" y="250.6" width="15.8" height="4.3" rx="1" fill="#f2f2f6" stroke="#8a8aa0" stroke-width="0.5"/>
<text x="594.7" y="254" font-size="3.4" fill="#444" textLength="12.8" lengthAdjust="spacingAndGlyphs">Brightness</text>
<rect x="611.5" y="251.2" width="75.50" height="2.2" fill="#dedee0"/>
<rect x="687.00" y="249.8" width="12.8" height="4.7" fill="#ffffff"/>
<rect x="688.40" y="251.6" width="2.4" height="1.3" fill="#555"/>
<rect x="590.0" y="255.7" width="110.50" height="104.40" fill="#e1e1e7"/>
<line x1="590.0" y1="255.9" x2="700.50" y2="255.9" stroke="#b8b8c0" stroke-width="0.6"/>
<ellipse cx="645.75" cy="307.8" rx="53.45" ry="51.90" fill="none" stroke="#f8f8fa" stroke-width="1.2"/>
<ellipse cx="645.75" cy="307.8" rx="52.85" ry="51.3" fill="#000"/>
<ellipse cx="640.7" cy="304.9" rx="47.3" ry="47.4" fill="#0c0ad8"/>
<ellipse cx="640.7" cy="304.9" rx="47.3" ry="47.4" fill="#000" filter="url(#spk)"/>
<ellipse cx="640.7" cy="304.9" rx="47.3" ry="47.4" fill="url(#vig)"/>
<ellipse cx="638.7" cy="305.7" rx="14.9" ry="14.9" fill="#000"/>
<rect x="590.0" y="360.10" width="110.50" height="4.2" fill="#e9e9ea"/>
<line x1="590.0" y1="360.10" x2="700.50" y2="360.10" stroke="#c0c0c4" stroke-width="0.5"/>
<text x="591.5" y="363.50" font-size="3" fill="#666" textLength="10" lengthAdjust="spacingAndGlyphs">0 Objects</text>
<text x="608.0" y="363.50" font-size="3" fill="#666" textLength="16" lengthAdjust="spacingAndGlyphs">Subtotal 4073</text>
<text x="632.0" y="363.50" font-size="3" fill="#666" textLength="23" lengthAdjust="spacingAndGlyphs">31.287, 47.645 mm</text>
</g>
<line x1="161.4" y1="234.8" x2="161.4" y2="253.5" stroke="#3a8ab8" stroke-width="1"/>
<text x="35.9" y="398" font-size="16.3" fill="#000" stroke="#000" stroke-width="0.2" textLength="61" lengthAdjust="spacingAndGlyphs">0.01 μM</text>
<text x="156.6" y="398" font-size="16.3" fill="#000" stroke="#000" stroke-width="0.2" textLength="61.1" lengthAdjust="spacingAndGlyphs">0.03 μM</text>
<text x="274.3" y="398" font-size="16.3" fill="#000" stroke="#000" stroke-width="0.2" textLength="51.4" lengthAdjust="spacingAndGlyphs">0.1 μM</text>
<text x="395" y="398" font-size="16.3" fill="#000" stroke="#000" stroke-width="0.2" textLength="51.4" lengthAdjust="spacingAndGlyphs">0.3 μM</text>
<text x="509.7" y="398" font-size="16.3" fill="#000" stroke="#000" stroke-width="0.2" textLength="36.9" lengthAdjust="spacingAndGlyphs">1 μM</text>
<text x="620.2" y="398" font-size="16.3" fill="#000" stroke="#000" stroke-width="0.2" textLength="37.6" lengthAdjust="spacingAndGlyphs">3 μM</text>
<text x="236.1" y="427.4" font-size="17.2" fill="#000" stroke="#000" stroke-width="0.2" textLength="246.4" lengthAdjust="spacingAndGlyphs">Cytochalasin D Concentration</text>
<text x="206.7" y="459.8" font-size="15.6" fill="#000" stroke="#000" stroke-width="0.2" textLength="311.5" lengthAdjust="spacingAndGlyphs">HT-1080 Cell Invasion into 10 mg/mL BME</text>
<text x="91.7" y="481.6" font-size="15.6" fill="#000" stroke="#000" stroke-width="0.2" textLength="542.2" lengthAdjust="spacingAndGlyphs">DAPI stain with cell counts using Acumen eX3 laser microplate cytometer</text>
</svg></body></html>
